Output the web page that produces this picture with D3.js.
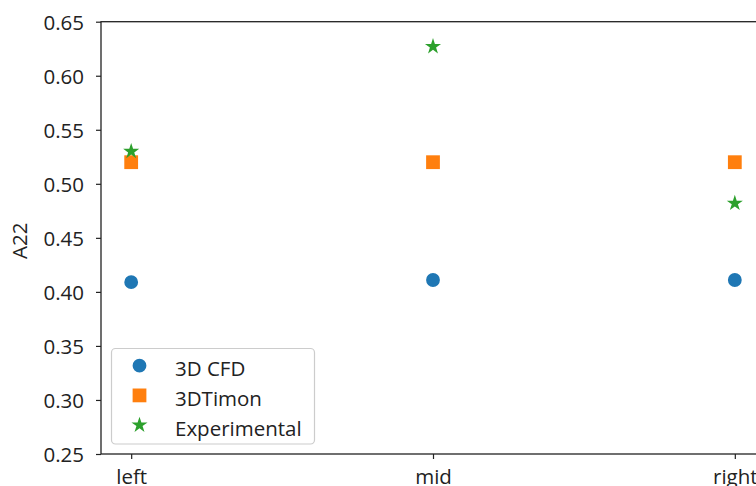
<!DOCTYPE html>
<html><head><meta charset="utf-8">
<script src="https://cdn.jsdelivr.net/npm/d3@7"></script>
<style>body{margin:0;background:#fff;} svg{display:block;} text{font-family:"Open Sans",sans-serif;fill:#222;}</style>
</head><body>
<svg id="c" width="756" height="486"></svg>
<script>
const categories = ["left", "mid", "right"];
const cfd = [0.409, 0.411, 0.411];
const timon = [0.520, 0.520, 0.520];
const experimental = [0.530, 0.627, 0.482];
const yTicks = [0.25, 0.30, 0.35, 0.40, 0.45, 0.50, 0.55, 0.60, 0.65];
const seriesNames = ["3D CFD", "3DTimon", "Experimental"];
const colors = ["#1f77b4", "#ff7f0e", "#2ca02c"];

(function () {
const svg = d3.select("#c");
const pl = 101, pr = 765, pt = 21.7, pb = 454;
const x = d3.scaleLinear().domain([-0.1, 2.1]).range([pl, pr]);
const y = d3.scaleLinear().domain([0.25, 0.65]).range([pb, pt]);
const fs = 20.5;

// y axis
const ya = svg.append("g").attr("transform", `translate(${pl},0)`)
  .call(d3.axisLeft(y).tickValues(yTicks).tickFormat(d3.format(".2f")).tickSize(5).tickPadding(12));
ya.select(".domain").remove();
ya.selectAll("line").attr("stroke", "#222").attr("stroke-width", 1.2);
ya.selectAll("text").style("font-size", fs + "px").attr("fill", "#222").attr("dy", "0.38em");

// x axis
const xa = svg.append("g").attr("transform", `translate(0,${pb})`)
  .call(d3.axisBottom(x).tickValues([0, 1, 2]).tickFormat(i => categories[i]).tickSize(5).tickPadding(10));
xa.select(".domain").remove();
xa.selectAll("line").attr("stroke", "#222").attr("stroke-width", 1.2);
xa.selectAll("text").style("font-size", fs + "px").attr("fill", "#222");

// spines
svg.append("rect").attr("x", pl).attr("y", pt).attr("width", pr - pl).attr("height", pb - pt)
  .attr("fill", "none").attr("stroke", "#222").attr("stroke-width", 1.3);

// y label
svg.append("text").attr("transform", `translate(27,${(pt + pb) / 2 + 3}) rotate(-90)`)
  .attr("text-anchor", "middle").style("font-size", fs + "px").text("A22");

const data = [cfd, timon, experimental];
const shapes = [d3.symbolCircle, d3.symbolSquare, d3.symbolStar];
const sizes = [150, 190, 80];
data.forEach((vals, s) => {
  svg.append("g").selectAll("path").data(vals).join("path")
    .attr("transform", (d, i) => `translate(${x(i)},${y(d)})`)
    .attr("d", d3.symbol().type(shapes[s]).size(sizes[s]))
    .attr("fill", colors[s]);
});

// legend
const lg = svg.append("g");
lg.append("rect").attr("x", 111.5).attr("y", 348.5).attr("width", 203).attr("height", 95.5)
  .attr("rx", 4).attr("fill", "#fff").attr("fill-opacity", 0.8).attr("stroke", "#ccc").attr("stroke-width", 1.2);
seriesNames.forEach((n, s) => {
  const yy = 365.7 + s * 29.7;
  lg.append("path").attr("transform", `translate(139.5,${yy})`)
    .attr("d", d3.symbol().type(shapes[s]).size(sizes[s])).attr("fill", colors[s]);
  lg.append("text").attr("x", 175).attr("y", yy + 10.5).style("font-size", fs + "px").text(n);
});
})();
</script>
</body></html>
